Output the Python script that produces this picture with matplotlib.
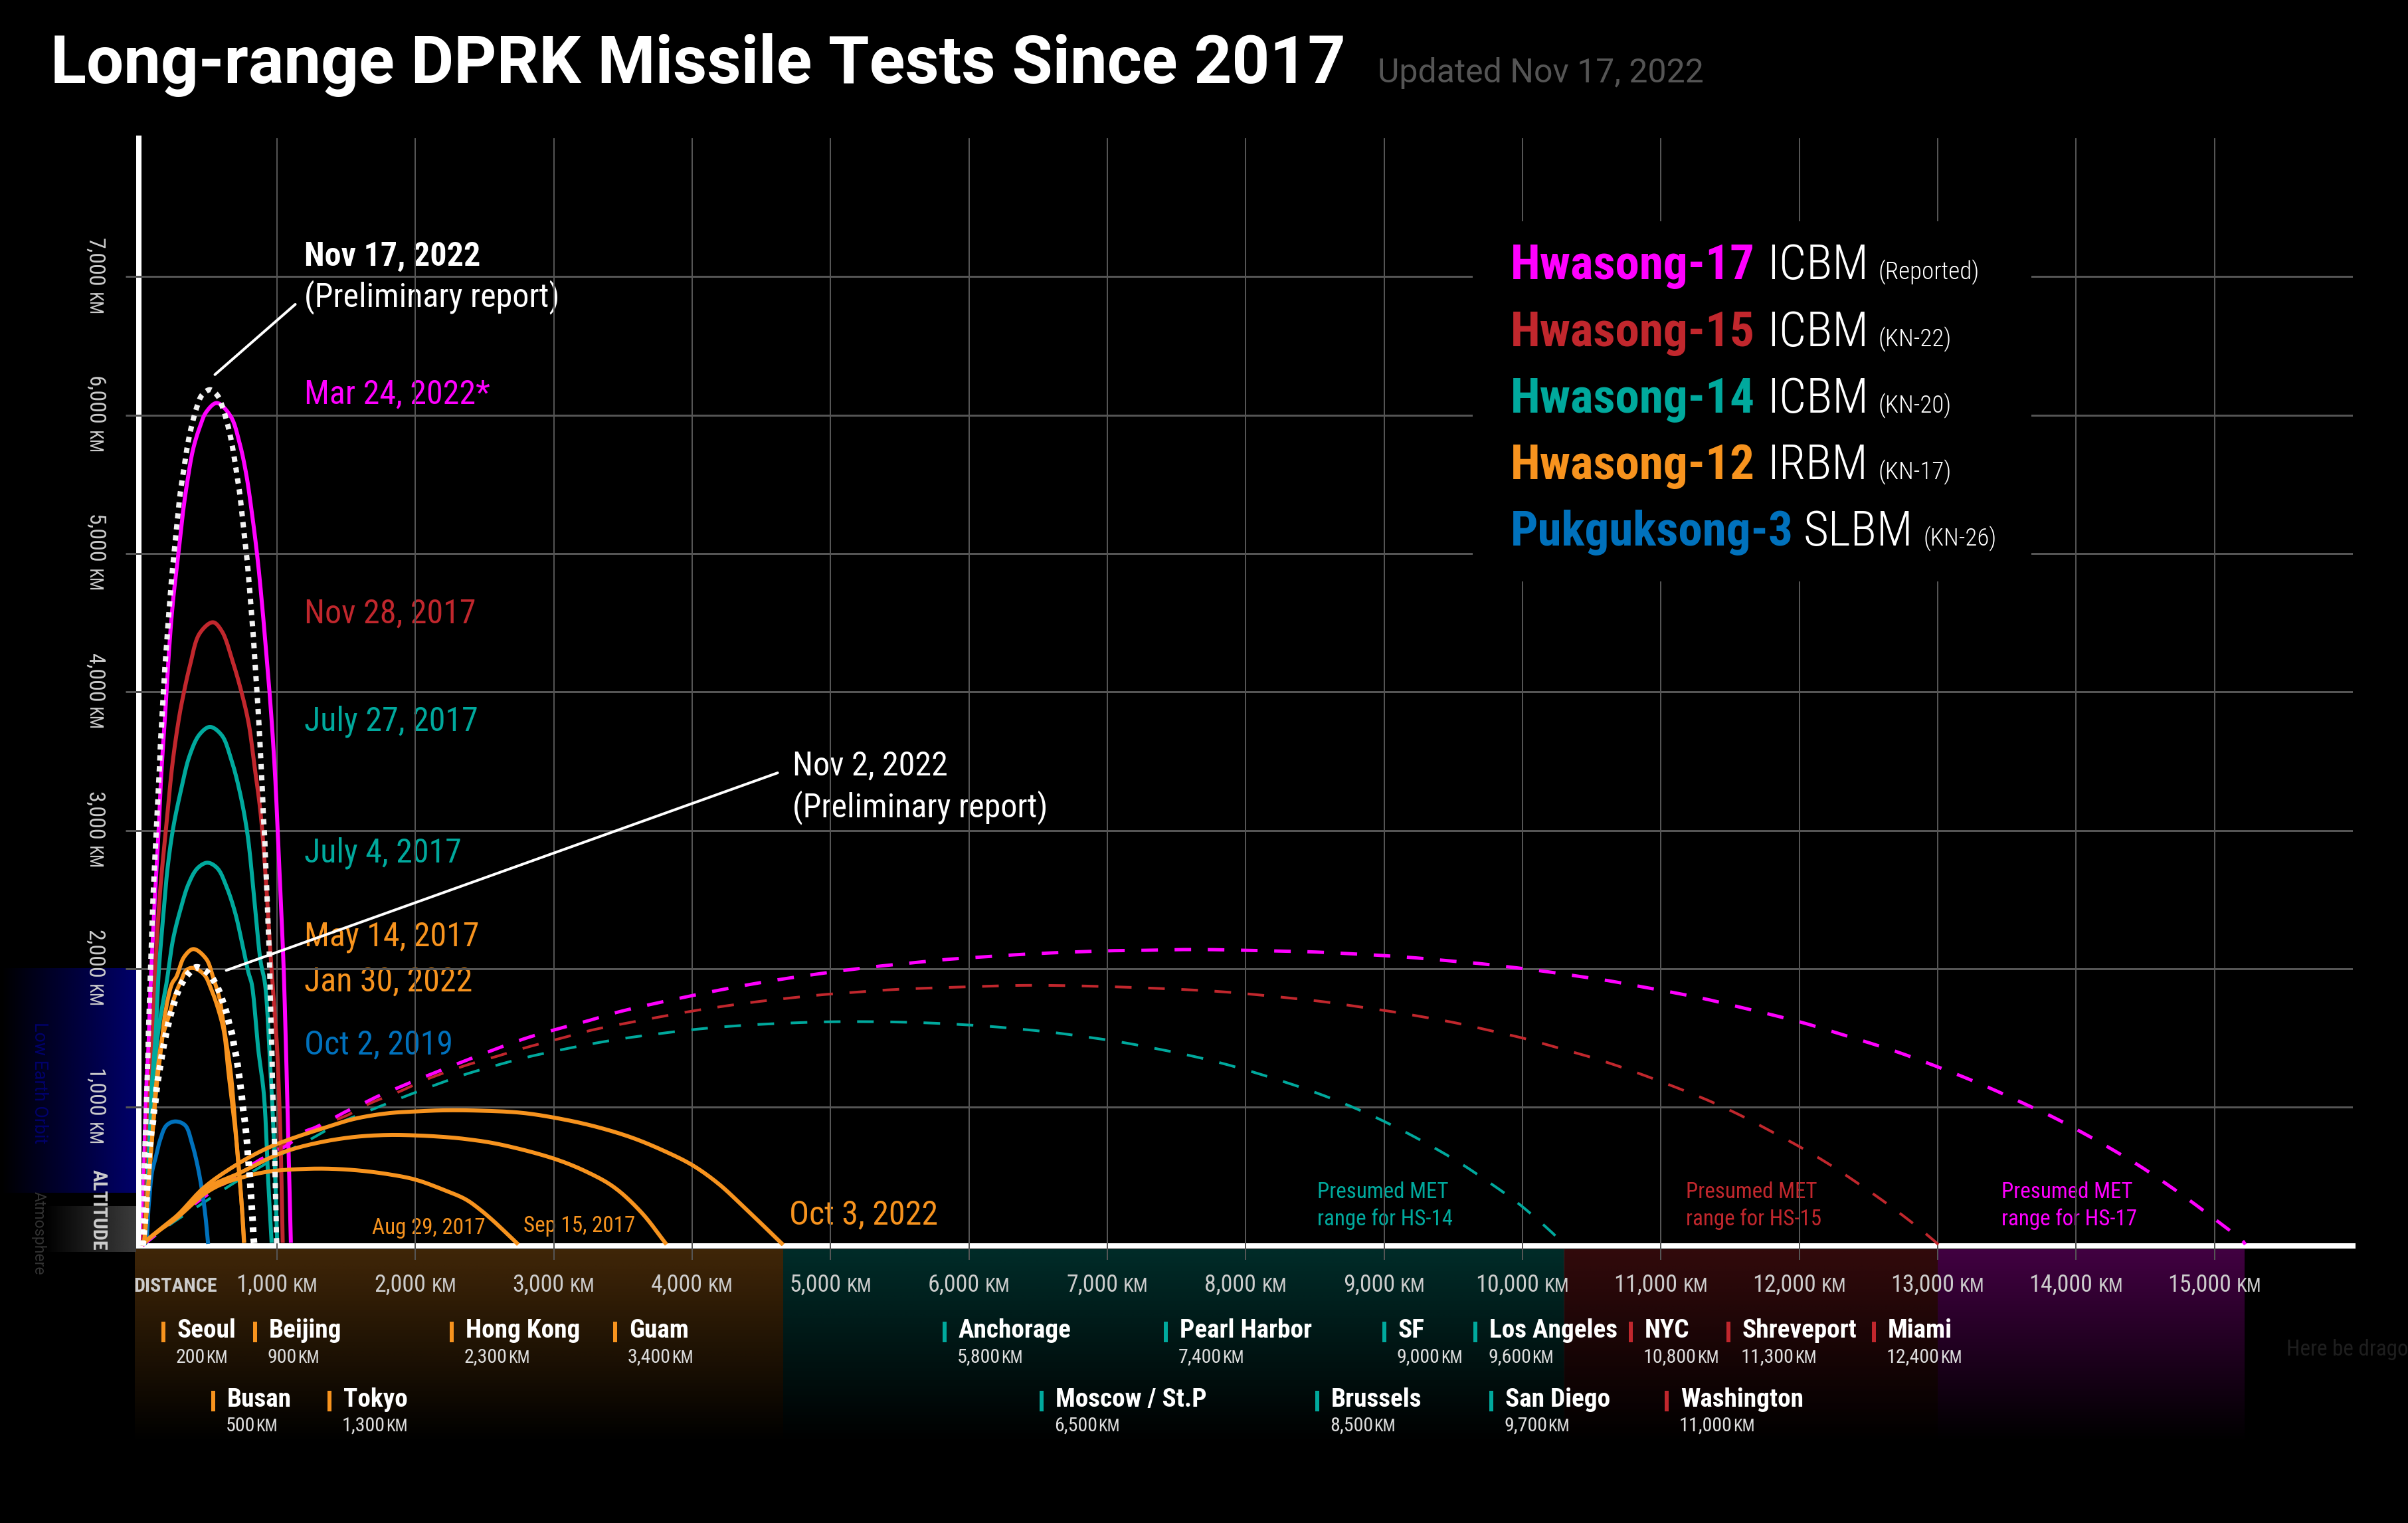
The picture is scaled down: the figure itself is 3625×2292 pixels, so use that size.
import numpy as np
import matplotlib
matplotlib.use("Agg")
import matplotlib.pyplot as plt
from matplotlib.transforms import Affine2D
from matplotlib.colors import to_rgb
import logging
logging.getLogger("matplotlib.font_manager").setLevel(logging.ERROR)

MAGENTA, RED, TEAL, ORANGE, BLUE = "#FF00FF", "#C1272D", "#00A99D", "#F7931E", "#0071BC"
GRID = "#555555"

# ---- trajectories: (distance km, altitude km)
hs17_mar24_x = [30,42,58,71,85,103,124,146,165,191,218,250,290,322,354,394,442,490,566,666,730,778,818,858,890,922,957,986,1005,1026,1047,1066,1082,1101]
hs17_mar24_y = [0,612,1172,1414,1814,2214,2614,3014,3414,3814,4263,4663,5015,5303,5527,5751,5911,6023,6087,5991,5799,5575,5303,4983,4663,4295,3863,3414,3014,2534,2054,1412,772,20]
hs15_nov28_x = [30,50,74,98,122,154,202,247,293,317,370,442,538,602,682,746,797,834,882,919,954,986,1002,1026,1042]
hs15_nov28_y = [0,292,932,1414,2006,2534,3046,3494,3814,3943,4183,4423,4503,4439,4215,3991,3767,3494,3126,2662,2102,1654,1412,772,20]
hs14_jul27_x = [30,42,74,98,122,146,178,210,250,306,370,442,517,602,666,730,786,834,882,914,954,978,1002]
hs14_jul27_y = [0,20,612,1172,1494,1974,2374,2726,3014,3286,3542,3694,3747,3686,3526,3286,2982,2534,2054,1892,1252,772,20]
hs14_jul04_x = [30,42,58,82,114,146,202,250,306,362,426,498,570,634,698,746,794,818,866,906,938,962]
hs14_jul04_y = [0,20,292,772,1252,1572,1894,2214,2438,2614,2726,2766,2726,2598,2406,2198,1974,1892,1412,1092,452,20]
hs12_may14_x = [30,39,66,98,130,162,194,242,274,330,397,490,538,586,618,666,706,746,764]
hs12_may14_y = [0,20,372,772,1140,1412,1684,1892,1942,2086,2142,2070,1942,1782,1572,1252,772,292,20]
hs12_jan30_x = [30,39,66,98,130,170,218,266,306,346,394,474,522,578,618,650,706,746,762]
hs12_jan30_y = [0,20,372,772,1188,1492,1654,1814,1910,1990,2006,1958,1862,1702,1542,1252,772,292,20]
hs12_aug29_x = [30,42,154,282,474,602,746,922,1082,1322,1562,1802,2002,2202,2362,2458,2561,2744]
hs12_aug29_y = [0,20,112,204,372,444,492,532,548,556,545,516,476,404,335,268,181,8]
hs12_sep15_x = [30,42,154,282,474,730,954,1098,1322,1562,1802,2002,2202,2362,2601,2999,3238,3437,3636,3815]
hs12_sep15_y = [0,20,114,208,404,524,636,692,748,785,799,796,785,770,733,629,533,421,237,8]
hs12_oct03_x = [30,42,154,282,474,714,922,1082,1322,1562,1802,2002,2202,2458,2760,2999,3277,3556,3795,4002,4193,4392,4551,4658]
hs12_oct03_y = [0,20,116,220,420,588,700,764,844,916,956,969,977,975,960,925,866,783,685,581,445,261,109,5]
pk3_oct02_x = [30,50,74,98,122,154,202,266,338,386,426,458,482,503]
pk3_oct02_y = [0,20,292,532,628,756,868,897,868,740,580,404,228,12]
nov02_x = [30,34,45,58,66,74,82,90,103,111,122,130,141,154,167,181,197,215,234,258,282,317,362,418,506,551,586,613,637,656,677,690,706,719,730,741,750,758,770,778,786,791,799,805,810,815,821,826,829,836]
nov02_y = [0,52,164,324,484,644,727,807,887,967,1044,1127,1204,1284,1364,1441,1521,1599,1676,1756,1828,1902,1966,2010,1966,1902,1830,1750,1678,1598,1523,1443,1366,1284,1204,1124,1044,967,887,804,727,647,564,484,407,327,244,167,87,5]
nov17_x = [29,31,34,37,42,47,53,58,68,71,77,82,87,93,98,104,111,119,127,135,143,151,157,162,167,171,181,190,202,213,226,238,253,269,285,302,326,350,382,426,458,517,573,605,650,682,707,731,749,766,784,798,811,824,835,845,856,866,879,887,895,901,911,917,924,930,936,943,948,951,956,960,965,967,973,978,983,986,989,994,996,999]
nov17_y = [0,92,244,404,564,724,884,1044,1366,1526,1686,1846,2006,2166,2326,2486,2646,2806,2966,3126,3286,3446,3606,3686,3766,3847,4007,4167,4327,4487,4644,4805,4964,5124,5282,5439,5599,5757,5914,6071,6143,6183,6138,6063,5908,5753,5594,5436,5276,5119,4959,4800,4639,4482,4322,4162,4002,3842,3606,3446,3286,3126,2966,2806,2646,2486,2326,2166,2006,1846,1686,1526,1366,1204,1044,884,724,564,404,244,84,5]

met17_x = [30,178,274,362,458,562,666,762,962,1074,1194,1274,1386,1490,1594,1706,1818,2043,2760,2999,3238,3457,3695,3934,4153,4392,4631,4869,5108,5347,5586,5825,6063,6302,6541,6780,7018,7257,7496,7755,7994,8233,8474,8709,8949,9184,9429,9664,9904,10139,10383,10619,10849,11085,11324,11560,11795,12026,12257,12492,12714,12945,13167,13389,13611,13824,14037,14250,14455,14654,14845,15036,15201,15223]
met17_y = [0,124,196,268,340,412,479,548,668,724,820,852,908,964,1012,1068,1116,1210,1485,1557,1621,1685,1741,1792,1837,1882,1922,1957,1989,2018,2042,2066,2083,2099,2112,2122,2130,2133,2138,2138,2133,2128,2122,2111,2098,2082,2061,2040,2013,1984,1949,1914,1872,1829,1781,1725,1669,1610,1541,1469,1397,1312,1226,1133,1032,933,821,701,578,445,309,165,37,8]
met15_x = [30,218,410,642,842,1018,1410,1506,1674,1882,2083,2362,2581,2812,3047,3277,3516,3755,3994,4233,4471,4710,4949,5188,5427,5673,5912,6155,6402,6640,6887,7126,7365,7608,7854,8093,8332,8576,8816,9051,9287,9526,9762,10006,10228,10463,10694,10925,11147,11369,11591,11804,12017,12226,12426,12625,12816,12981,13007]
met15_y = [0,164,308,468,596,708,900,940,1028,1111,1201,1301,1365,1434,1496,1557,1605,1650,1693,1730,1762,1789,1813,1831,1848,1859,1867,1875,1880,1879,1874,1867,1858,1847,1832,1811,1787,1760,1725,1691,1651,1607,1554,1498,1437,1370,1296,1213,1128,1037,933,821,706,581,448,309,165,29,5]
met14_x = [30,234,418,626,834,1050,1250,1450,1682,1901,2130,2362,2581,2812,3047,3277,3516,3755,3994,4233,4471,4710,4949,5180,5427,5665,5904,6143,6382,6613,6851,7086,7321,7560,7791,8022,8245,8474,8696,8918,9131,9344,9548,9748,9944,10126,10281,10299]
met14_y = [0,156,276,412,540,668,772,884,980,1068,1155,1237,1301,1362,1413,1458,1498,1530,1559,1581,1597,1608,1616,1618,1616,1610,1599,1584,1563,1539,1507,1472,1429,1381,1327,1263,1194,1117,1032,936,832,717,597,464,325,173,29,8]

x_tick_values = list(range(1000, 16000, 1000))
y_tick_values = list(range(1000, 8000, 1000))
range_band_edges = [-25, 4657, 10300, 13000, 15214]
range_band_colors = [ORANGE, TEAL, RED, MAGENTA]

city_names = ["Seoul","Beijing","Hong Kong","Guam","Anchorage","Pearl Harbor","SF","Los Angeles","NYC","Shreveport","Miami",
              "Busan","Tokyo","Moscow / St.P","Brussels","San Diego","Washington"]
city_km = ["200","900","2,300","3,400","5,800","7,400","9,000","9,600","10,800","11,300","12,400",
           "500","1,300","6,500","8,500","9,700","11,000"]
city_colors = [ORANGE]*4+[TEAL]*4+[RED]*3+[ORANGE]*2+[TEAL]*3+[RED]
city_rows = [0]*11+[1]*6
city_bar_px = [246,384,680,926,1422,1755,2084,2221,2455,2602,2821,321,496,1568,1983,2245,2509]

legend_names = ["Hwasong-17","Hwasong-15","Hwasong-14","Hwasong-12","Pukguksong-3"]
legend_types = ["ICBM","ICBM","ICBM","IRBM","SLBM"]
legend_notes = ["(Reported)","(KN-22)","(KN-20)","(KN-17)","(KN-26)"]
legend_colors = [MAGENTA,RED,TEAL,ORANGE,BLUE]

date_labels = [("Mar 24, 2022*",MAGENTA,607),("Nov 28, 2017",RED,937),("July 27, 2017",TEAL,1099),("July 4, 2017",TEAL,1298),
               ("May 14, 2017",ORANGE,1423),("Jan 30, 2022",ORANGE,1491),("Oct 2, 2019",BLUE,1586)]

# ---- figure
fig = plt.figure(figsize=(36.25, 22.92), dpi=100, facecolor="black")
COND = ["Roboto Condensed", "Liberation Sans Narrow", "Roboto"]
FULL = ["Roboto", "Liberation Sans"]
P = lambda px: px * 0.72
PX = Affine2D().scale(1, -1).translate(0, 2292)
plt.rcParams["lines.scale_dashes"] = False

ax = fig.add_axes([208.5/3625, (2292-1874.5)/2292, (3542-208.5)/3625, (1874.5-208)/2292])
ax.set_facecolor("none")
ax.set_xlim(0, 16000); ax.set_ylim(0, 8000)
renderer = fig.canvas.get_renderer()

def txt(x, y, s, size, color, weight="normal", family=COND, ha="left", rot=0, z=1):
    return ax.text(x, y, s, transform=PX, fontsize=P(size), color=color, fontweight=weight, family=family,
                   ha=ha, va="baseline", rotation=rot, rotation_mode="anchor", clip_on=False, zorder=z)

def width(s, size, weight="normal", family=COND):
    t = txt(0, 0, s, size, "k", weight, family)
    w = t.get_window_extent(renderer).width
    t.remove()
    return w

def stroke(x, y, n=14):
    """Smooth centripetal Catmull-Rom stroke through the read points."""
    p = np.column_stack([x, y]).astype(float)
    p = np.vstack([2*p[0]-p[1], p, 2*p[-1]-p[-2]])
    out = []
    for i in range(1, len(p)-2):
        a, b, c, d = p[i-1], p[i], p[i+1], p[i+2]
        t0 = 0.0
        t1 = t0 + np.linalg.norm(b-a)**0.5
        t2 = t1 + np.linalg.norm(c-b)**0.5
        t3 = t2 + np.linalg.norm(d-c)**0.5
        t = np.linspace(t1, t2, n, endpoint=False)[:, None]
        A1 = (t1-t)/(t1-t0)*a + (t-t0)/(t1-t0)*b
        A2 = (t2-t)/(t2-t1)*b + (t-t1)/(t2-t1)*c
        A3 = (t3-t)/(t3-t2)*c + (t-t2)/(t3-t2)*d
        B1 = (t2-t)/(t2-t0)*A1 + (t-t0)/(t2-t0)*A2
        B2 = (t3-t)/(t3-t1)*A2 + (t-t1)/(t3-t1)*A3
        out.append((t2-t)/(t2-t1)*B1 + (t-t1)/(t2-t1)*B2)
    out.append(p[-2:-1])
    q = np.vstack(out)
    return q[:, 0], q[:, 1]

# backgrounds
def band(extent, rgb, alpha_from, alpha_to, vertical=True):
    ramp = np.linspace(alpha_from, alpha_to, 128)
    if vertical:
        a = np.zeros((128, 2, 4)); a[..., 3] = ramp[:, None]
    else:
        a = np.zeros((2, 128, 4)); a[..., 3] = ramp[None, :]
    a[..., :3] = rgb
    im = ax.imshow(a, extent=extent, aspect="auto", interpolation="bilinear", zorder=0.5)
    im.set_clip_on(False)

for i, c in enumerate(range_band_colors):
    band([range_band_edges[i], range_band_edges[i+1], -1441, -25], to_rgb(c), 0.26, 0.0)
band([-998, -20, 381, 2000], to_rgb("#00006A"), 0.0, 1.0, vertical=False)
band([-680, -20, -48, 283], to_rgb("#3C3C3C"), 0.0, 1.0, vertical=False)
ax.set_xlim(0, 16000); ax.set_ylim(0, 8000)

# axes
for s in ("top", "right"):
    ax.spines[s].set_visible(False)
for s in ("left", "bottom"):
    ax.spines[s].set_color("white"); ax.spines[s].set_linewidth(P(8)); ax.spines[s].set_zorder(1)
ax.set_xticks(x_tick_values, labels=[""]*len(x_tick_values))
ax.set_yticks(y_tick_values, labels=[""]*len(y_tick_values))
ax.tick_params(axis="x", length=P(21), width=P(2), color=GRID)
ax.tick_params(axis="y", length=P(20), width=P(3), color=GRID)
ax.grid(True, axis="x", color=GRID, lw=P(2))
ax.grid(True, axis="y", color=GRID, lw=P(3))
ax.set_axisbelow(False)

# trajectories
for x, y, c, w in [(met14_x, met14_y, TEAL, 4), (met15_x, met15_y, RED, 4), (met17_x, met17_y, MAGENTA, 5)]:
    ax.plot(*stroke(x, y), color=c, lw=P(w), ls=(0, (P(25), P(25))), dash_capstyle="butt", zorder=3, clip_on=False)
for x, y, c in [(hs17_mar24_x, hs17_mar24_y, MAGENTA), (hs15_nov28_x, hs15_nov28_y, RED),
                (hs14_jul27_x, hs14_jul27_y, TEAL), (hs14_jul04_x, hs14_jul04_y, TEAL),
                (pk3_oct02_x, pk3_oct02_y, BLUE),
                (hs12_may14_x, hs12_may14_y, ORANGE), (hs12_jan30_x, hs12_jan30_y, ORANGE),
                (hs12_aug29_x, hs12_aug29_y, ORANGE), (hs12_sep15_x, hs12_sep15_y, ORANGE),
                (hs12_oct03_x, hs12_oct03_y, ORANGE)]:
    ax.plot(*stroke(x, y), color=c, lw=P(6), solid_capstyle="butt", solid_joinstyle="round", zorder=3.2)
ax.plot(*stroke(nov17_x, nov17_y), color="#F2F2F2", lw=P(8), ls=(0, (P(8), P(8.6))), dash_capstyle="butt", zorder=3.5)
ax.plot(*stroke(nov02_x, nov02_y), color="white", lw=P(10), ls=(0, (P(7), P(9.6))), dash_capstyle="butt", zorder=3.5)

# leaders
for tip, tail in [((552, 6292), (1133, 6800)), ((634, 1988), (4618, 3415))]:
    ax.annotate("", xy=tip, xytext=tail, zorder=4,
                arrowprops=dict(arrowstyle="-", color="white", lw=P(4), shrinkA=0, shrinkB=0))

# legend box hides the grid
ax.add_patch(plt.Rectangle((2217, 333), 3058-2217, 875-333, transform=PX, facecolor="black", edgecolor="none",
                           zorder=2.7, clip_on=False))

# title
txt(76, 125, "Long-range DPRK Missile Tests Since 2017", 99.6, "white", "bold", FULL, z=5)
txt(2074, 124, "Updated Nov 17, 2022", 50, "#555555", "normal", FULL, z=5)

# tick labels
for v in x_tick_values:
    px = 208.5 + v * (3542-208.5) / 16000
    num, km = f"{v:,}", "KM"
    w1, w2 = width(num, 36), width(km, 29)
    x0 = px - (w1 + 8 + w2) / 2
    txt(x0, 1944, num, 36, "#CCCCCC")
    txt(x0 + w1 + 8, 1944, km, 29, "#CCCCCC")
for v in y_tick_values:
    py = 1874.5 - v * (1874.5-208) / 8000
    num, km = f"{v:,}", "KM"
    w1, w2 = width(num, 34), width(km, 27)
    y0 = py - (w1 + 8 + w2) / 2
    txt(133, y0, num, 34, "#CCCCCC", rot=-90)
    txt(133, y0 + w1 + 8, km, 27, "#CCCCCC", rot=-90)
txt(201, 1944, "DISTANCE", 30, "#CCCCCC", "bold")
txt(140, 1760, "ALTITUDE", 30, "#CCCCCC", "bold", rot=-90)
txt(52, 1538, "Low Earth Orbit", 26.7, "#00006A", family=FULL, rot=-90)
txt(52, 1793, "Atmosphere", 23, "#333333", family=FULL, rot=-90)

# date labels
txt(458, 400, "Nov 17, 2022", 50, "white", "bold")
txt(458, 461, "(Preliminary report)", 50, "white")
for s, c, y in date_labels:
    txt(458, y, s, 50, c)
txt(1193, 1166, "Nov 2, 2022", 50, "white")
txt(1193, 1229, "(Preliminary report)", 50, "white")
txt(1188, 1842, "Oct 3, 2022", 50, ORANGE)
txt(560, 1857, "Aug 29, 2017", 33, ORANGE)
txt(788, 1854, "Sep 15, 2017", 33, ORANGE)
for x, c, n in [(1983, TEAL, "14"), (2538, RED, "15"), (3013, MAGENTA, "17")]:
    txt(x, 1803, "Presumed MET", 33, c)
    txt(x, 1844, f"range for HS-{n}", 33, c)
txt(3442, 2040, "Here be dragons", 33, "#1E1E1E")

# cities
row_y = [(2013, 2051, 1989, 2020), (2117, 2154, 2093, 2124)]
for n, k, c, r, bx in zip(city_names, city_km, city_colors, city_rows, city_bar_px):
    yn, yk, y0, y1 = row_y[r]
    ax.plot([bx, bx], [y0, y1], transform=PX, color=c, lw=P(6), solid_capstyle="butt", clip_on=False, zorder=1)
    txt(bx + 21, yn, n, 39.2, "white", "bold")
    w = width(k, 30)
    txt(bx + 19, yk, k, 30, "#DDDDDD")
    txt(bx + 19 + w + 1, yk, "KM", 25, "#DDDDDD")

# legend
legend_y = [420, 521, 621, 721, 821]
for n, t, k, c, y in zip(legend_names, legend_types, legend_notes, legend_colors, legend_y):
    x = 2274
    txt(x, y, n, 73, c, "bold", z=5)
    x2 = x + (386 if n.startswith("H") else 441)
    txt(x2, y, t, 73, "white", "light", z=5)
    txt(x2 + (168 if n.startswith("H") else 180), y, k, 37, "white", "light", z=5)

fig.savefig("out.png", dpi=100, facecolor="black")
